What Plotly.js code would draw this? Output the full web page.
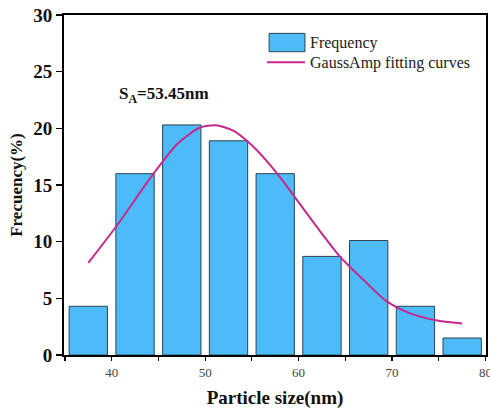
<!DOCTYPE html>
<html>
<head>
<meta charset="utf-8">
<script src="https://cdn.plot.ly/plotly-3.0.1.min.js"></script>
<style>
  html, body { margin: 0; padding: 0; background: #fff; }
  #chart { width: 490px; height: 414px; }
</style>
</head>
<body>
<div id="chart"></div>
<script>
// Histogram bins (bin centres, nm) and frequencies (%)
const binCenters = [37.5, 42.5, 47.5, 52.5, 57.5, 62.5, 67.5, 72.5, 77.5];
const frequency  = [4.3, 16.0, 20.3, 18.9, 16.0, 8.7, 10.1, 4.3, 1.5];

// GaussAmp fitting curve
const fitX = [37.5, 40.5, 44.4, 47.0, 49.4, 51.1, 53.0, 55.0, 57.8, 59.4, 61.9, 64.4, 66.9, 69.4, 71.8, 74.7, 77.5];
const fitY = [8.13, 11.36, 15.92, 18.6, 20.05, 20.27, 19.8, 18.5, 15.92, 14.15, 11.36, 8.71, 6.66, 4.75, 3.72, 3.07, 2.78];

const yTickVals = [0, 5, 10, 15, 20, 25, 30];

const labelText = 'S<sub>A</sub>=53.45nm';
const legendNames = ['Frequency', 'GaussAmp fitting curves'];

const serif = 'Liberation Serif, Times New Roman, serif';
const barColor = '#4dbbf7';
const curveColor = '#c8288c';

const traces = [
  {
    type: 'bar',
    x: binCenters,
    y: frequency,
    width: 4.1,
    name: legendNames[0],
    marker: { color: barColor, line: { color: '#2b4452', width: 1 } },
    showlegend: false
  },
  {
    type: 'scatter',
    mode: 'lines',
    x: fitX,
    y: fitY,
    name: legendNames[1],
    line: { color: curveColor, width: 2, shape: 'spline', smoothing: 0.7 },
    showlegend: false
  }
];

const layout = {
  width: 490,
  height: 414,
  margin: { l: 64, r: 4, t: 15, b: 59 },
  paper_bgcolor: '#fff',
  plot_bgcolor: '#fff',
  showlegend: false,
  xaxis: {
    range: [34.9, 80.05],
    tick0: 0,
    dtick: 10,
    ticks: 'outside',
    ticklen: 4,
    tickwidth: 1.2,
    tickcolor: '#000',
    minor: { dtick: 5, ticks: 'outside', ticklen: 4, tickwidth: 1.2, tickcolor: '#000', showgrid: false },
    ticklabeloverflow: 'allow',
    showline: true,
    linecolor: '#000',
    linewidth: 2,
    mirror: true,
    showgrid: false,
    zeroline: false,
    tickfont: { family: serif, size: 13, color: '#444' },
    title: { text: 'Particle size(nm)', font: { family: serif, size: 19, color: '#111', weight: 'bold' }, standoff: 12 }
  },
  yaxis: {
    range: [0, 30],
    tickvals: yTickVals,
    ticks: 'outside',
    ticklen: 6,
    tickwidth: 1.5,
    tickcolor: '#000',
    showline: true,
    linecolor: '#000',
    linewidth: 2,
    mirror: true,
    showgrid: false,
    zeroline: false,
    tickfont: { family: serif, size: 19, color: '#111', weight: 'bold' },
    title: { text: 'Frecuency(%)', font: { family: serif, size: 17, color: '#111', weight: 'bold' }, standoff: 6 }
  },
  shapes: [
    { type: 'rect', xref: 'paper', yref: 'paper', x0: 0.486, x1: 0.571, y0: 0.892, y1: 0.946,
      fillcolor: barColor, line: { color: '#2b4452', width: 1 } },
    { type: 'line', xref: 'paper', yref: 'paper', x0: 0.481, x1: 0.571, y0: 0.861, y1: 0.861,
      line: { color: curveColor, width: 2 } }
  ],
  annotations: [
    { xref: 'paper', yref: 'paper', x: 0.578, y: 0.919, xanchor: 'left', yanchor: 'middle', showarrow: false,
      text: legendNames[0], font: { family: serif, size: 16, color: '#222' } },
    { xref: 'paper', yref: 'paper', x: 0.578, y: 0.860, xanchor: 'left', yanchor: 'middle', showarrow: false,
      text: legendNames[1], font: { family: serif, size: 16, color: '#222' } },
    { xref: 'paper', yref: 'paper', x: 0.125, y: 0.765, xanchor: 'left', yanchor: 'middle', showarrow: false,
      text: labelText, font: { family: serif, size: 17, color: '#111', weight: 'bold' } }
  ]
};

Plotly.newPlot('chart', traces, layout, { displayModeBar: false, staticPlot: true });
</script>
</body>
</html>
